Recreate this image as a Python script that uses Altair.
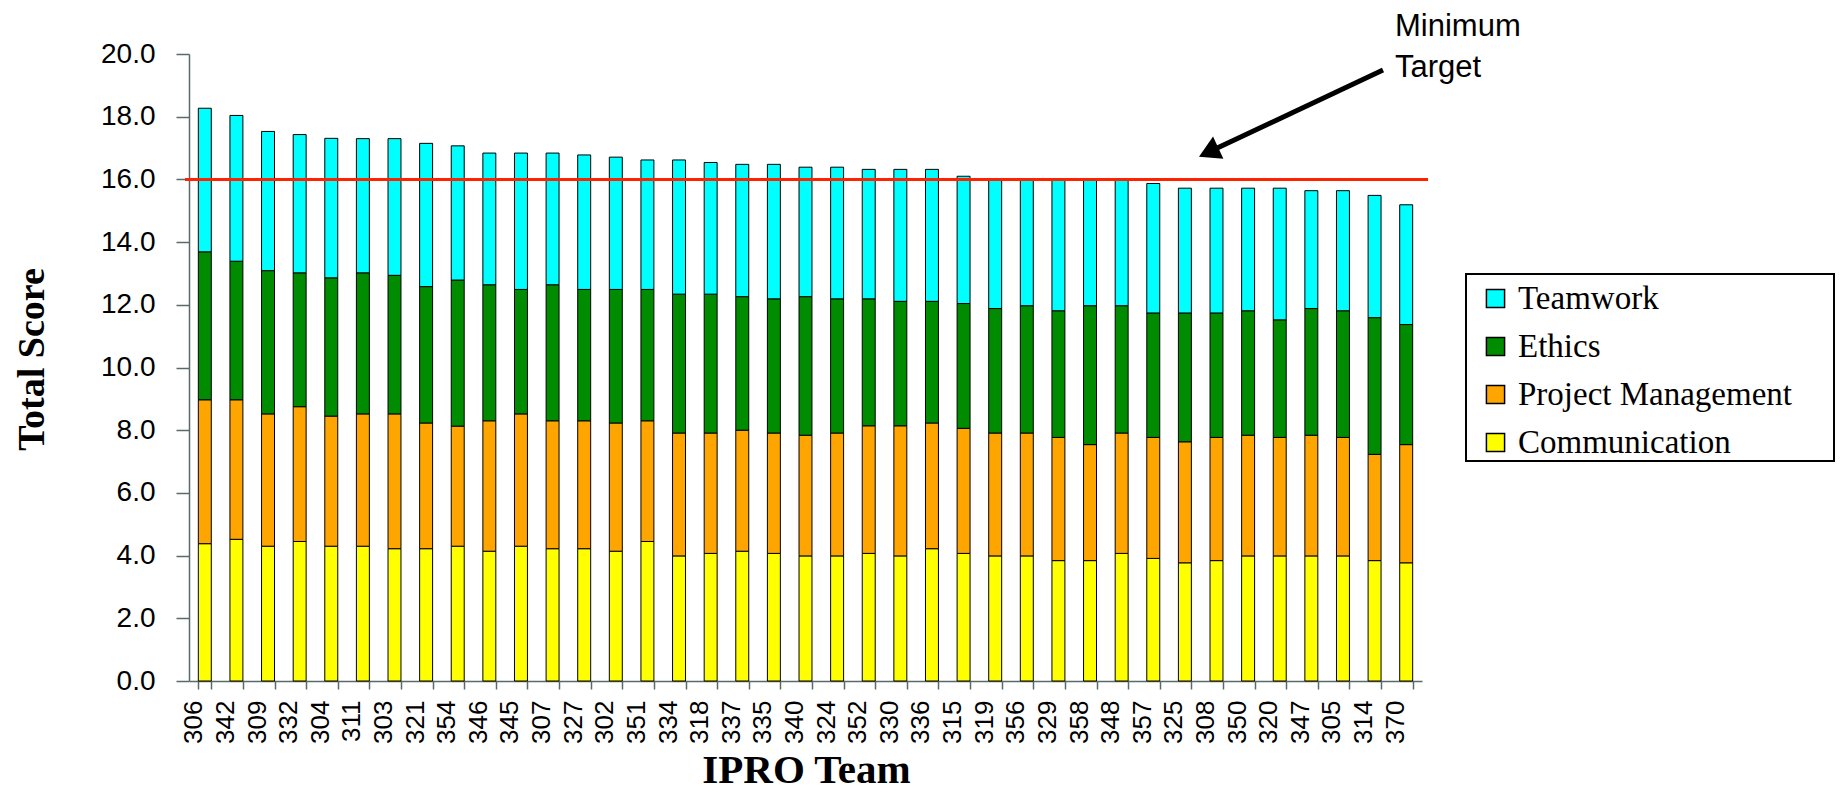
import altair as alt
import pandas as pd

teams = ["306", "342", "309", "332", "304", "311", "303", "321", "354", "346",
         "345", "307", "327", "302", "351", "334", "318", "337", "335", "340",
         "324", "352", "330", "336", "315", "319", "356", "329", "358", "348",
         "357", "325", "308", "350", "320", "347", "305", "314", "370"]

communication = [4.38, 4.52, 4.30, 4.45, 4.30, 4.30, 4.22, 4.22, 4.30, 4.14,
                 4.30, 4.22, 4.22, 4.14, 4.45, 3.99, 4.07, 4.14, 4.07, 3.99,
                 3.99, 4.07, 3.99, 4.22, 4.07, 3.99, 3.99, 3.84, 3.84, 4.07,
                 3.91, 3.77, 3.84, 3.99, 3.99, 3.99, 3.99, 3.84, 3.77]
project_management = [4.59, 4.45, 4.22, 4.30, 4.15, 4.22, 4.30, 4.01, 3.83, 4.16,
                      4.22, 4.08, 4.08, 4.09, 3.85, 3.92, 3.84, 3.86, 3.84, 3.85,
                      3.92, 4.07, 4.15, 4.01, 3.99, 3.92, 3.92, 3.93, 3.70, 3.84,
                      3.86, 3.86, 3.93, 3.85, 3.78, 3.85, 3.78, 3.39, 3.77]
ethics = [4.72, 4.42, 4.57, 4.27, 4.41, 4.50, 4.42, 4.35, 4.66, 4.34,
          3.97, 4.34, 4.19, 4.26, 4.19, 4.43, 4.43, 4.26, 4.28, 4.42,
          4.28, 4.05, 3.97, 3.88, 3.98, 3.97, 4.06, 4.04, 4.43, 4.06,
          3.97, 4.11, 3.97, 3.97, 3.75, 4.04, 4.04, 4.36, 3.83]
teamwork = [4.58, 4.65, 4.44, 4.41, 4.45, 4.28, 4.36, 4.57, 4.28, 4.20,
            4.35, 4.20, 4.29, 4.22, 4.13, 4.28, 4.20, 4.22, 4.29, 4.13,
            4.20, 4.13, 4.21, 4.21, 4.06, 4.14, 4.05, 4.21, 4.01, 4.01,
            4.13, 3.98, 3.98, 3.91, 4.20, 3.76, 3.83, 3.90, 3.82]

series_names = ["Teamwork", "Ethics", "Project Management", "Communication"]
series_colors = ["#00FFFF", "#008C00", "#FFA500", "#FFFF00"]
stack_names = ["Communication", "Project Management", "Ethics", "Teamwork"]
stack_values = [communication, project_management, ethics, teamwork]
minimum_target = 16.0
y_ticks = [0, 2, 4, 6, 8, 10, 12, 14, 16, 18, 20]

rows = []
for i, t in enumerate(teams):
    for k, (name, vals) in enumerate(zip(stack_names, stack_values)):
        rows.append({"team": t, "series": name, "score": vals[i], "ord": k})
df = pd.DataFrame(rows)

axis_gray = "#5a6a6a"

bars = alt.Chart(df).mark_bar(stroke="black", strokeWidth=1).encode(
    x=alt.X("team:N", sort=teams,
            scale=alt.Scale(paddingInner=0.59, paddingOuter=0.295),
            axis=alt.Axis(title="IPRO Team", labelAngle=270, labelAlign="right",
                          labelBaseline="middle", labelFont="Liberation Sans",
                          labelFontSize=26, labelColor="black", labelPadding=11,
                          labelOffset=-11, tickSize=8, tickBand="extent",
                          tickColor=axis_gray, domainColor=axis_gray, domainWidth=1.5,
                          tickWidth=1.5, grid=False,
                          titleFont="Liberation Serif", titleFontSize=41,
                          titleFontWeight="bold", titleColor="black",
                          titleX=617, titleY=101, titleBaseline="alphabetic")),
    y=alt.Y("score:Q", stack="zero",
            scale=alt.Scale(domain=[0, 20], nice=False),
            axis=alt.Axis(title="Total Score", values=y_ticks, format=".1f",
                          labelFont="Liberation Sans", labelFontSize=28,
                          labelColor="black", labelPadding=21, tickSize=13,
                          tickColor=axis_gray, domainColor=axis_gray, domainWidth=1.5,
                          tickWidth=1.5, grid=False,
                          titleFont="Liberation Serif", titleFontSize=38,
                          titleFontWeight="bold", titleColor="black",
                          titleAngle=270, titleX=-146, titleY=305,
                          titleBaseline="alphabetic")),
    color=alt.Color("series:N",
                    scale=alt.Scale(domain=series_names, range=series_colors),
                    legend=alt.Legend(title=None, orient="none", legendX=1290, legendY=228,
                                      symbolType="square", symbolSize=330,
                                      symbolStrokeColor="black", symbolStrokeWidth=1.5,
                                      labelFont="Liberation Serif", labelFontSize=33,
                                      labelColor="black", labelOffset=6, labelLimit=0,
                                      rowPadding=14, padding=0)),
    order=alt.Order("ord:Q", sort="ascending"),
)

target = alt.Chart(pd.DataFrame({"score": [minimum_target]})).mark_rule(
    color="#FF2200", strokeWidth=3).encode(
    y=alt.Y("score:Q", title="Total Score"),
    x=alt.value(-4), x2=alt.value(1239))

one = pd.DataFrame({"a": [0]})

legend_box = alt.Chart(one).mark_rect(fillOpacity=0, stroke="black", strokeWidth=2).encode(
    x=alt.value(1277), x2=alt.value(1645), y=alt.value(220), y2=alt.value(407))

shaft = alt.Chart(one).mark_rule(color="black", strokeWidth=5).encode(
    x=alt.value(1194), y=alt.value(16), x2=alt.value(1024), y2=alt.value(96))

head = alt.Chart(one).mark_point(shape="triangle-up", filled=True, size=600, angle=245,
                                 color="black", opacity=1).encode(
    x=alt.value(1019.6), y=alt.value(98.2))

note1 = alt.Chart(pd.DataFrame({"t": ["Minimum"]})).mark_text(
    align="left", baseline="alphabetic", font="Liberation Sans", fontSize=31,
    color="black").encode(text="t:N", x=alt.value(1206), y=alt.value(-18))
note2 = alt.Chart(pd.DataFrame({"t": ["Target"]})).mark_text(
    align="left", baseline="alphabetic", font="Liberation Sans", fontSize=31,
    color="black").encode(text="t:N", x=alt.value(1206), y=alt.value(23))

chart = alt.layer(bars, target, legend_box, shaft, head, note1, note2).properties(
    width=1233, height=627,
    background="white",
    autosize=alt.AutoSizeParams(type="none"),
    padding={"left": 181, "top": 46, "right": 413, "bottom": 109},
).configure_view(stroke="transparent", strokeWidth=0).configure_axis(grid=False)

chart.save("out.html", embed_options={"renderer": "svg", "actions": False})
